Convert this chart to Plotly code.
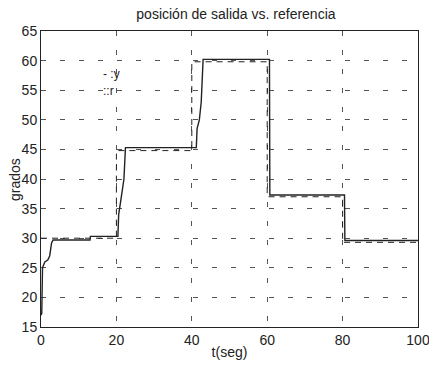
import plotly.graph_objects as go

# salida y(t)
t_y = [0, 0.2, 0.4, 1.0, 1.8, 2.3, 2.8, 3.2, 13.0, 13.1, 20.4, 20.6, 21.2, 21.6, 22.0, 22.4,
       41.2, 41.4, 42.0, 42.5, 43.0, 60.6, 60.7, 80.5, 80.6, 100]
y_out = [17.0, 17.3, 25.0, 26.0, 26.3, 27.0, 29.2, 29.7, 29.7, 30.3, 30.3, 34.0, 36.5, 38.0, 40.0, 45.3,
         45.3, 48.5, 50.0, 53.0, 60.2, 60.2, 37.3, 37.3, 29.6, 29.6]

# referencia r(t)
t_r = [0, 20, 20, 40, 40, 60, 60, 80, 80, 100]
r_ref = [30.0, 30.0, 44.8, 44.8, 59.8, 59.8, 37.0, 37.0, 29.3, 29.3]

x_ticks = [0, 20, 40, 60, 80, 100]
y_ticks = [15, 20, 25, 30, 35, 40, 45, 50, 55, 60, 65]

ink = "#222222"
fam = "Liberation Sans, Arial, sans-serif"
font = dict(family=fam, size=14, color=ink)

fig = go.Figure()
fig.add_trace(go.Scatter(x=t_r, y=r_ref, mode="lines",
                         line=dict(color=ink, width=1, dash="6px,5px"), name="r"))
fig.add_trace(go.Scatter(x=t_y, y=y_out, mode="lines",
                         line=dict(color=ink, width=1.4), name="y"))

axis_common = dict(showline=True, linecolor=ink, linewidth=1, mirror=True,
                   showgrid=True, gridcolor="#555555", griddash="5px,14px", gridwidth=1,
                   zeroline=False, ticks="", tickfont=font, automargin=False,
                   ticklabeloverflow="allow")

fig.update_layout(
    width=429, height=366,
    margin=dict(l=41, r=11, t=31, b=39),
    paper_bgcolor="white", plot_bgcolor="white",
    showlegend=False,
    title=dict(text="posición de salida vs. referencia", x=0.55, xanchor="center",
               y=0.962, yanchor="middle", font=dict(family=fam, size=14, color=ink)),
    xaxis=dict(range=[0, 100], tickvals=x_ticks, title=dict(text="t(seg)", font=font, standoff=0),
               **axis_common),
    yaxis=dict(range=[15, 65], tickvals=y_ticks, **axis_common),
)

fig.add_annotation(xref="paper", yref="paper", x=-0.069, y=0.5, text="grados",
                   textangle=-90, showarrow=False, xanchor="center", yanchor="middle",
                   font=font)
fig.add_annotation(x=16.0, y=57.8, text="- :y", showarrow=False, xanchor="left",
                   font=dict(family=fam, size=12, color=ink))
fig.add_annotation(x=16.0, y=54.8, text="::r", showarrow=False, xanchor="left",
                   font=dict(family=fam, size=12, color=ink))

fig.write_html("out.html")
